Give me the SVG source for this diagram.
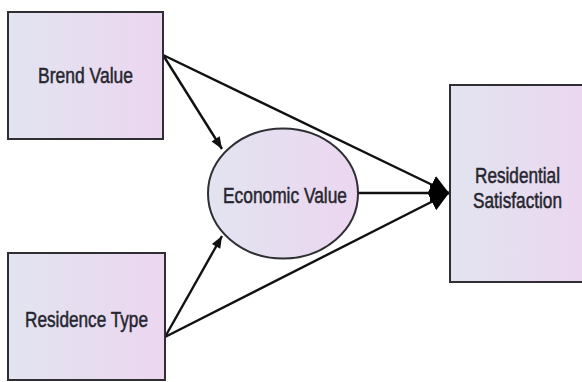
<svg xmlns="http://www.w3.org/2000/svg" width="582" height="382" viewBox="0 0 582 382">
<style>
.node{stroke:#2e2e33;stroke-width:2;fill:url(#g)}
.lbl{font-family:"Liberation Sans",Arial,sans-serif;font-size:22px;fill:#26262e;stroke:#26262e;stroke-width:0.5;text-anchor:middle}
.edge{stroke:#111;stroke-width:2.4;fill:none}
</style>
<defs>
<linearGradient id="g" x1="0" y1="0" x2="1" y2="0">
<stop offset="0" stop-color="#e2e4f0"/>
<stop offset="1" stop-color="#ecd6f0"/>
</linearGradient>
<marker id="a" viewBox="0 0 10 10" refX="10" refY="5" markerWidth="6" markerHeight="5" markerUnits="strokeWidth" orient="auto">
<path d="M0,1 L10,5 L0,9 Z" fill="#111"/>
</marker>
<marker id="big" viewBox="0 0 10 10" refX="10" refY="5" markerWidth="8" markerHeight="11" markerUnits="strokeWidth" orient="auto">
<path d="M0,0 L10,5 L0,10 Z" fill="#000"/>
</marker>
</defs>
<g id="connectors">
<line class="edge" x1="163" y1="55" x2="222" y2="149" marker-end="url(#a)"/>
<line class="edge" x1="165" y1="337" x2="222" y2="236" marker-end="url(#a)"/>
<line class="edge" x1="163" y1="55" x2="449" y2="193" marker-end="url(#big)"/>
<line class="edge" x1="165" y1="337" x2="449" y2="193" marker-end="url(#big)"/>
<line class="edge" x1="358" y1="193" x2="449" y2="193" marker-end="url(#big)"/>
</g>
<g id="brend">
<rect class="node" x="8" y="12" width="155" height="127"/>
<text class="lbl" x="85.5" y="83" textLength="95" lengthAdjust="spacingAndGlyphs">Brend Value</text>
</g>
<g id="residence">
<rect class="node" x="8" y="253" width="157" height="127"/>
<text class="lbl" x="86.5" y="327" textLength="123" lengthAdjust="spacingAndGlyphs">Residence Type</text>
</g>
<g id="economic">
<ellipse class="node" cx="283" cy="193.5" rx="75" ry="65"/>
<text class="lbl" x="285" y="203" textLength="124" lengthAdjust="spacingAndGlyphs">Economic Value</text>
</g>
<g id="satisfaction">
<rect class="node" x="450" y="85" width="145" height="197"/>
<text class="lbl" x="517.5" y="183" textLength="85" lengthAdjust="spacingAndGlyphs">Residential</text>
<text class="lbl" x="517.5" y="208" textLength="89" lengthAdjust="spacingAndGlyphs">Satisfaction</text>
</g>
</svg>
